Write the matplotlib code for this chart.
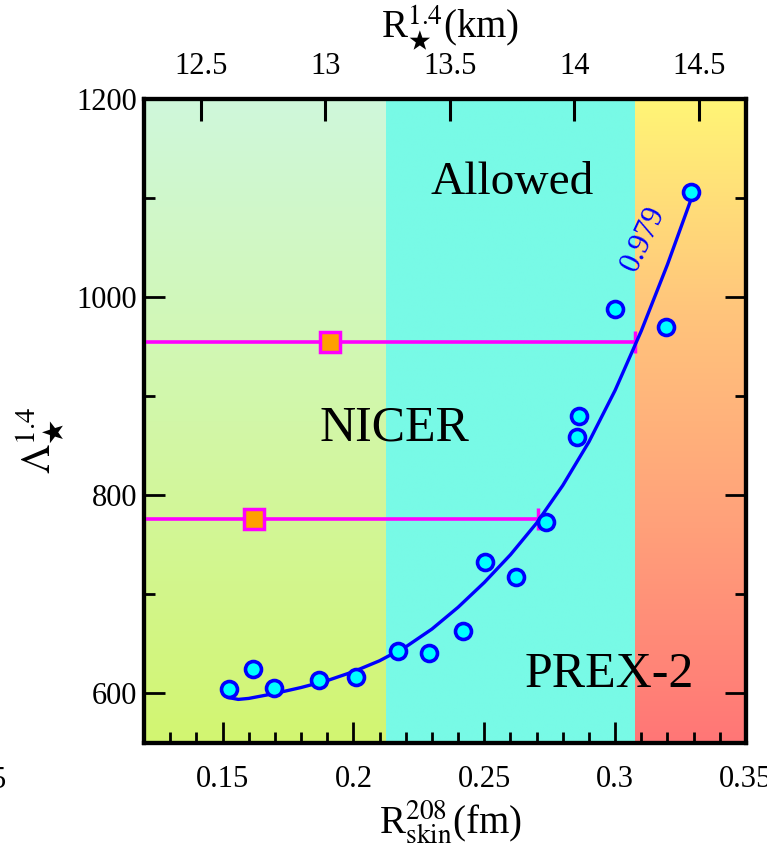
import numpy as np
import matplotlib
matplotlib.use("Agg")
import matplotlib.pyplot as plt
from matplotlib.colors import LinearSegmentedColormap
from matplotlib.ticker import MultipleLocator, FixedLocator

plt.rcParams['font.family'] = ['Liberation Serif', 'DejaVu Serif']
plt.rcParams['mathtext.fontset'] = 'stix'

# ---------------- data ----------------
skin = [0.1523, 0.1618, 0.1698, 0.1869, 0.2010, 0.2170, 0.2287, 0.2417,
        0.2504, 0.2622, 0.2736, 0.2854, 0.2862, 0.2999, 0.3196, 0.3291]
lam = [604, 625, 606, 614, 617, 643, 641, 663,
       733, 718, 773, 859, 880, 988, 970, 1106]

fit_skin = [0.152, 0.156, 0.160, 0.170, 0.180, 0.190, 0.200, 0.210, 0.220,
            0.230, 0.240, 0.250, 0.260, 0.270, 0.280, 0.290, 0.300, 0.310,
            0.320, 0.330]
fit_lam = [596, 594, 595, 600, 606, 613, 622, 633, 647,
           665, 687, 712, 740, 772, 810, 854, 906, 966,
           1033, 1106]
corr_label = "0.979"

nicer_skin = [0.191, 0.162]
nicer_lam = [955, 776]
nicer_err = [0.1165, 0.1085]

band_edges = [0.12, 0.2124, 0.3075, 0.35]   # Allowed / NICER / PREX-2 bands in skin
xlim = (0.12, 0.35)
ylim = (550, 1200)
top_lim = (12.273, 14.688)                  # R_star^1.4 (km) matching xlim
top_ticks = [12.5, 13, 13.5, 14, 14.5]
bottom_ticks = [0.15, 0.2, 0.25, 0.3, 0.35]
left_ticks = [600, 800, 1000, 1200]

# ---------------- figure ----------------
W, H = 767, 851
fig = plt.figure(figsize=(W / 100, H / 100), dpi=100)
L, R, T, B = 144, 746, 99, 743
ax = fig.add_axes([L / W, 1 - B / H, (R - L) / W, (B - T) / H])
ax.set_xlim(*xlim)
ax.set_ylim(*ylim)

# background gradient bands
grad = np.linspace(0, 1, 256).reshape(-1, 1)
cm_left = LinearSegmentedColormap.from_list("l", ["#d3f571", "#d2f7a8", "#cff8db"])
cm_mid = LinearSegmentedColormap.from_list("m", ["#78fae6", "#78fae6"])
cm_right = LinearSegmentedColormap.from_list("r", ["#ff7676", "#ffa07a", "#ffc47c", "#fff576"])
for (x0, x1), cm in zip(zip(band_edges[:-1], band_edges[1:]), [cm_left, cm_mid, cm_right]):
    ax.imshow(grad, extent=[x0, x1, ylim[0], ylim[1]], origin="lower", cmap=cm,
              aspect="auto", interpolation="bilinear", zorder=0)
ax.set_xlim(*xlim)
ax.set_ylim(*ylim)

# NICER horizontal bars
for xs, ys, e in zip(nicer_skin, nicer_lam, nicer_err):
    ax.errorbar([xs], [ys], xerr=[[e], [e]], fmt="s", color="#ff00ff", ecolor="#ff00ff",
                elinewidth=2.6, capsize=8, capthick=2.6, markersize=14,
                markerfacecolor="#ffa000", markeredgecolor="#ff00ff", markeredgewidth=2.5,
                zorder=3)

# fit curve and points
ax.plot(fit_skin, fit_lam, color="#0000ff", lw=2.4, zorder=4,
        solid_capstyle="round", solid_joinstyle="round")
ax.plot(skin, lam, "o", markersize=11.5, markerfacecolor="#00ffff",
        markeredgecolor="#0000ff", markeredgewidth=2.6, zorder=5)

ax.text(0.3107, 1059, corr_label, color="#0000ff", fontsize=22, rotation=65,
        ha="center", va="center", zorder=6)

# region labels
ax.text(0.2607, 1115, "Allowed", fontsize=34, ha="center", va="center")
ax.text(0.2158, 868, "NICER", fontsize=36, ha="center", va="center")
ax.text(0.2976, 619, "PREX-2", fontsize=36, ha="center", va="center")

# axes styling
for sp in ax.spines.values():
    sp.set_linewidth(3)
ax.xaxis.set_major_locator(FixedLocator(bottom_ticks))
ax.xaxis.set_minor_locator(MultipleLocator(0.01))
ax.yaxis.set_major_locator(FixedLocator(left_ticks))
ax.yaxis.set_minor_locator(MultipleLocator(100))
ax.set_xticklabels([f"{v:g}" for v in bottom_ticks])
ax.set_yticklabels([f"{v:g}" for v in left_ticks])
ax.tick_params(which="both", direction="in", right=True, top=False, width=2)
ax.tick_params(which="major", length=15, labelsize=22)
ax.tick_params(which="minor", length=8)
ax.tick_params(axis="x", which="major", pad=16)
ax.tick_params(axis="y", which="major", pad=5)

ax2 = ax.twiny()
ax2.set_xlim(*top_lim)
ax2.xaxis.set_major_locator(FixedLocator(top_ticks))
ax2.set_xticklabels([f"{v:g}" for v in top_ticks])
ax2.tick_params(direction="in", length=16, width=2.2, labelsize=22, pad=13)
for sp in ax2.spines.values():
    sp.set_linewidth(3)

# axis titles
fig.text(450 / W, 1 - 28 / H, r"R$^{1.4}_{\bigstar}$(km)", fontsize=28, ha="center", va="center")
fig.text(450 / W, 1 - 822 / H, r"R$^{208}_{\rm skin}$(fm)", fontsize=28, ha="center", va="center")
fig.text(40 / W, 1 - 440 / H, r"$\Lambda^{1.4}_{\bigstar}$", fontsize=30, ha="center",
         va="center", rotation=90)
# clipped neighbour label at far left
fig.text(7 / W, 1 - 780 / H, "0.35", fontsize=22, ha="right", va="center")

fig.savefig("out.png", dpi=100)
